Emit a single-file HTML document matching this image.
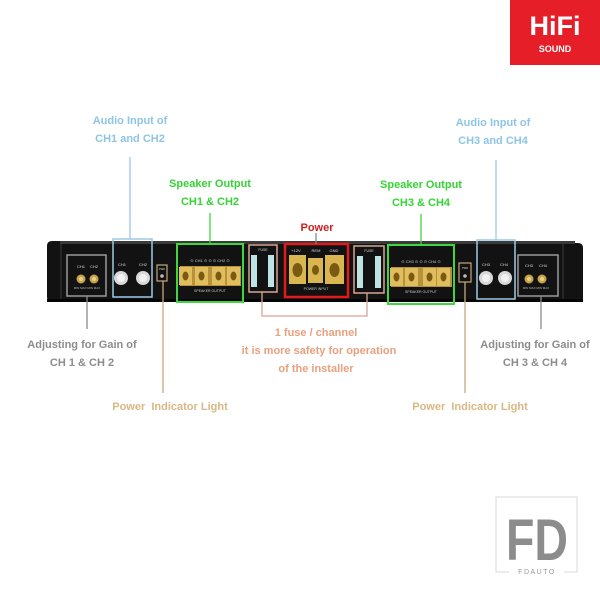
<!DOCTYPE html>
<html><head><meta charset="utf-8"><style>
html,body{margin:0;padding:0;background:#fff;}
svg{display:block;}
text{font-family:"Liberation Sans",Arial,sans-serif;}
</style></head><body>
<svg width="600" height="600" viewBox="0 0 600 600" xmlns="http://www.w3.org/2000/svg">
<rect width="600" height="600" fill="#fff"/>
<!-- HiFi logo -->
<rect x="510" y="0" width="90" height="65" fill="#e51e27"/>
<text x="555" y="35" font-size="27" font-weight="bold" fill="#fff" text-anchor="middle">HiFi</text>
<text x="555" y="52" font-size="9" font-weight="bold" fill="#fff" text-anchor="middle">SOUND</text>

<!-- amplifier body -->
<path d="M52,241 L578,243 Q583,243 583,248 L583,298 Q583,302 578,302 L52,302 Q47,302 47,297 L47,246 Q47,241 52,241 Z" fill="#121212"/>
<rect x="60" y="241" width="515" height="3" fill="#3a3a3a"/>
<line x1="61" y1="244" x2="61" y2="300" stroke="#2e2e2e" stroke-width="1.5"/>
<line x1="563" y1="244" x2="563" y2="300" stroke="#2e2e2e" stroke-width="1.5"/>
<rect x="47" y="299" width="536" height="3" fill="#050505"/>

<!-- left gain box -->
<rect x="67" y="255" width="39" height="41" fill="none" stroke="#9a9a9a" stroke-width="1.5"/>
<text x="81" y="268" font-size="4" fill="#ddd" text-anchor="middle">CH1</text>
<text x="94" y="268" font-size="4" fill="#ddd" text-anchor="middle">CH2</text>
<circle cx="81" cy="279" r="4.5" fill="#c9a24a"/><circle cx="81" cy="279" r="2" fill="#e9d08a"/>
<circle cx="94" cy="279" r="4.5" fill="#c9a24a"/><circle cx="94" cy="279" r="2" fill="#e9d08a"/>
<text x="87" y="289" font-size="3" fill="#bbb" text-anchor="middle">MIN MAX  MIN MAX</text>

<!-- left audio input -->
<rect x="113" y="239" width="39" height="58" fill="none" stroke="#9cc9e4" stroke-width="1.5"/>
<text x="122" y="266" font-size="4" fill="#ddd" text-anchor="middle">CH1</text>
<text x="143" y="266" font-size="4" fill="#ddd" text-anchor="middle">CH2</text>
<circle cx="121" cy="278" r="7" fill="#d8d8d8"/><circle cx="121" cy="278" r="4" fill="#f2f2f2"/>
<circle cx="143" cy="278" r="7" fill="#d8d8d8"/><circle cx="143" cy="278" r="4" fill="#f2f2f2"/>

<!-- left power indicator -->
<rect x="157" y="265" width="10" height="16" fill="none" stroke="#c9a67a" stroke-width="1.2"/>
<text x="162" y="270" font-size="2.5" fill="#ddd" text-anchor="middle">PWR</text>
<circle cx="162" cy="276" r="1.8" fill="#bbb"/>

<!-- left speaker output -->
<rect x="177" y="244" width="66" height="58" fill="none" stroke="#3fd63f" stroke-width="2"/>
<text x="210" y="262" font-size="4" fill="#ccc" text-anchor="middle">⊙ CH1 ⊙ ⊙ ⊙ CH2 ⊙</text>
<rect x="180" y="266" width="61" height="20" fill="#b8913c"/>
<g fill="#e0be5e">
<rect x="179" y="267" width="13" height="18"/><rect x="195" y="267" width="13" height="18"/>
<rect x="212" y="267" width="13" height="18"/><rect x="227" y="267" width="13" height="18"/>
</g>
<g fill="#7a5a12">
<ellipse cx="185.5" cy="276" rx="3" ry="4.5"/><ellipse cx="201.5" cy="276" rx="3" ry="4.5"/>
<ellipse cx="218.5" cy="276" rx="3" ry="4.5"/><ellipse cx="233.5" cy="276" rx="3" ry="4.5"/>
</g>
<text x="210" y="292" font-size="3.5" fill="#ccc" text-anchor="middle">SPEAKER OUTPUT</text>

<!-- left fuse -->
<rect x="249" y="245" width="28" height="47" fill="none" stroke="#d7a594" stroke-width="1.5"/>
<text x="263" y="251" font-size="3.5" fill="#ddd" text-anchor="middle">FUSE</text>
<rect x="251" y="255" width="6" height="32" fill="#bfe3e3"/>
<rect x="268" y="255" width="6" height="32" fill="#bfe3e3"/>

<!-- power input -->
<rect x="285" y="244" width="63" height="53" fill="none" stroke="#e01b1b" stroke-width="2.5"/>
<text x="296" y="252" font-size="4" fill="#ddd" text-anchor="middle">+12V</text>
<text x="316" y="252" font-size="4" fill="#ddd" text-anchor="middle">REM</text>
<text x="334" y="252" font-size="4" fill="#ddd" text-anchor="middle">GND</text>
<rect x="289" y="255" width="17" height="29" fill="#d9b650"/>
<rect x="308" y="258" width="15" height="25" fill="#d9b650"/>
<rect x="325" y="255" width="19" height="29" fill="#d9b650"/>
<g fill="#7a5a12">
<ellipse cx="297.5" cy="270" rx="5" ry="7"/><ellipse cx="315.5" cy="270" rx="3.5" ry="5"/><ellipse cx="334.5" cy="270" rx="5" ry="7"/>
</g>
<text x="316" y="290" font-size="3.5" fill="#ccc" text-anchor="middle">POWER INPUT</text>

<!-- right fuse -->
<rect x="354" y="246" width="30" height="47" fill="none" stroke="#d7a594" stroke-width="1.5"/>
<text x="369" y="252" font-size="3.5" fill="#ddd" text-anchor="middle">FUSE</text>
<rect x="357" y="256" width="6" height="32" fill="#bfe3e3"/>
<rect x="375" y="256" width="6" height="32" fill="#bfe3e3"/>

<!-- right speaker output -->
<rect x="388" y="245" width="66" height="59" fill="none" stroke="#3fd63f" stroke-width="2"/>
<text x="421" y="263" font-size="4" fill="#ccc" text-anchor="middle">⊙ CH3 ⊙ ⊙ ⊙ CH4 ⊙</text>
<rect x="391" y="267" width="61" height="20" fill="#b8913c"/>
<g fill="#e0be5e">
<rect x="390" y="268" width="13" height="18"/><rect x="405" y="268" width="13" height="18"/>
<rect x="423" y="268" width="13" height="18"/><rect x="437" y="268" width="13" height="18"/>
</g>
<g fill="#7a5a12">
<ellipse cx="396.5" cy="277" rx="3" ry="4.5"/><ellipse cx="411.5" cy="277" rx="3" ry="4.5"/>
<ellipse cx="429.5" cy="277" rx="3" ry="4.5"/><ellipse cx="443.5" cy="277" rx="3" ry="4.5"/>
</g>
<text x="421" y="293" font-size="3.5" fill="#ccc" text-anchor="middle">SPEAKER OUTPUT</text>

<!-- right power indicator -->
<rect x="459" y="263" width="12" height="19" fill="none" stroke="#c9a67a" stroke-width="1.2"/>
<text x="465" y="269" font-size="2.5" fill="#ddd" text-anchor="middle">PWR</text>
<circle cx="465" cy="276" r="1.8" fill="#bbb"/>

<!-- right audio input -->
<rect x="477" y="240" width="38" height="59" fill="none" stroke="#9cc9e4" stroke-width="1.5"/>
<text x="486" y="266" font-size="4" fill="#ddd" text-anchor="middle">CH3</text>
<text x="504" y="266" font-size="4" fill="#ddd" text-anchor="middle">CH4</text>
<circle cx="486" cy="278" r="7" fill="#d8d8d8"/><circle cx="486" cy="278" r="4" fill="#f2f2f2"/>
<circle cx="505" cy="278" r="7" fill="#d8d8d8"/><circle cx="505" cy="278" r="4" fill="#f2f2f2"/>

<!-- right gain box -->
<rect x="518" y="255" width="40" height="41" fill="none" stroke="#9a9a9a" stroke-width="1.5"/>
<text x="529" y="267" font-size="4" fill="#ddd" text-anchor="middle">CH3</text>
<text x="543" y="267" font-size="4" fill="#ddd" text-anchor="middle">CH4</text>
<circle cx="529" cy="279" r="4.5" fill="#c9a24a"/><circle cx="529" cy="279" r="2" fill="#e9d08a"/>
<circle cx="542" cy="279" r="4.5" fill="#c9a24a"/><circle cx="542" cy="279" r="2" fill="#e9d08a"/>
<text x="536" y="289" font-size="3" fill="#bbb" text-anchor="middle">MIN MAX  MIN MAX</text>

<!-- connector lines -->
<g stroke-width="1.3" fill="none">
<line x1="130" y1="157" x2="130" y2="239" stroke="#9cc9e4"/>
<line x1="496" y1="160" x2="496" y2="240" stroke="#9cc9e4"/>
<line x1="210" y1="213" x2="210" y2="244" stroke="#3fd63f"/>
<line x1="421" y1="214" x2="421" y2="245" stroke="#3fd63f"/>
<line x1="316" y1="233" x2="316" y2="244" stroke="#888"/>
<line x1="87" y1="296" x2="87" y2="329" stroke="#8a8a8a"/>
<line x1="541" y1="296" x2="541" y2="329" stroke="#8a8a8a"/>
<line x1="163" y1="281" x2="163" y2="393" stroke="#c9a67a"/>
<line x1="465" y1="282" x2="465" y2="393" stroke="#c9a67a"/>
<polyline points="262,292 262,316 367,316 367,293" stroke="#d7a594"/>
</g>

<!-- labels -->
<g font-size="11" font-weight="bold" text-anchor="middle">
<text x="130" y="124" fill="#8ec5e6">Audio Input of</text>
<text x="130" y="142" fill="#8ec5e6">CH1 and CH2</text>
<text x="493" y="126" fill="#8ec5e6">Audio Input of</text>
<text x="493" y="144" fill="#8ec5e6">CH3 and CH4</text>
<text x="210" y="187" fill="#35d435">Speaker Output</text>
<text x="210" y="205" fill="#35d435">CH1 &amp; CH2</text>
<text x="421" y="188" fill="#35d435">Speaker Output</text>
<text x="421" y="206" fill="#35d435">CH3 &amp; CH4</text>
<text x="317" y="231" fill="#cc1f1f">Power</text>
<text x="82" y="348" fill="#8c8c8c">Adjusting for Gain of</text>
<text x="82" y="366" fill="#8c8c8c">CH 1 &amp; CH 2</text>
<text x="535" y="348" fill="#8c8c8c">Adjusting for Gain of</text>
<text x="535" y="366" fill="#8c8c8c">CH 3 &amp; CH 4</text>
<text x="316" y="336" fill="#e8a07e">1 fuse / channel</text>
<text x="319" y="354" fill="#e8a07e">it is more safety for operation</text>
<text x="316" y="372" fill="#e8a07e">of the installer</text>
<text x="170" y="410" fill="#d8b884" xml:space="preserve">Power  Indicator Light</text>
<text x="470" y="410" fill="#d8b884" xml:space="preserve">Power  Indicator Light</text>
</g>

<!-- FD logo -->
<polyline points="509,572 496,572 496,497 577,497 577,572 564,572" fill="none" stroke="#d8d8d8" stroke-width="1"/>
<text x="537" y="560" font-size="58" font-weight="bold" fill="#8c8c8c" text-anchor="middle" textLength="62" lengthAdjust="spacingAndGlyphs">FD</text>
<text x="537" y="574" font-size="7" fill="#999" text-anchor="middle" letter-spacing="1.5">FDAUTO</text>
</svg>
</body></html>
